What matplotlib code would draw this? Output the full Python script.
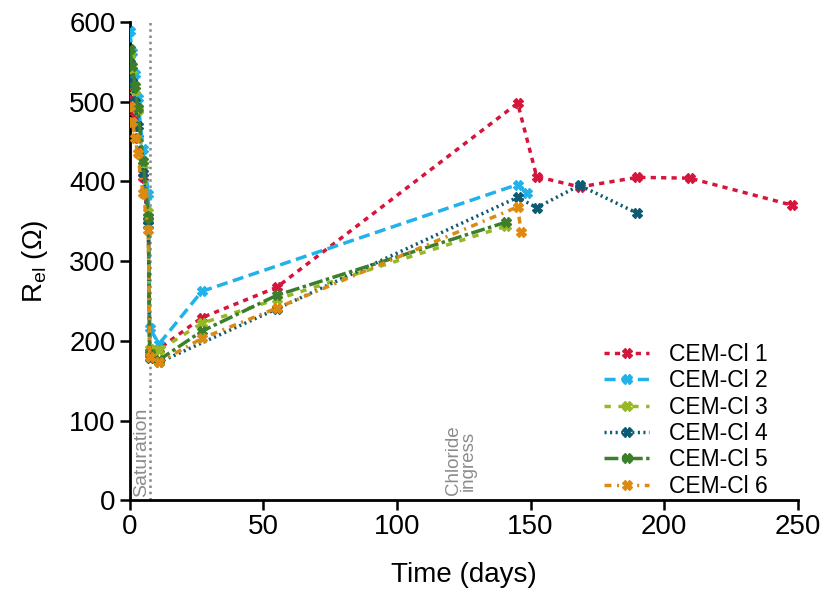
import matplotlib
matplotlib.use("Agg")
import matplotlib.pyplot as plt

plt.rcParams["font.family"] = ["Liberation Sans", "DejaVu Sans"]
plt.rcParams["mathtext.default"] = "regular"

# Data (days, ohm)
days_1 = [0, 1, 2, 3, 5, 7, 7.5, 11, 27, 55, 145.2, 152.3, 168.4, 190, 209.6, 248]
rel_1 = [520, 502, 482, 455, 405, 352, 186, 190, 229, 267, 498, 406, 393, 405, 404, 370]

days_2 = [0, 1, 2, 3, 5, 7, 7.5, 11, 27, 145.2, 148.6]
rel_2 = [588, 562, 535, 505, 440, 384, 216, 196, 262, 396, 385]

days_3 = [0, 1, 2, 3, 5, 7, 7.5, 11, 27, 55, 141]
rel_3 = [558, 540, 515, 490, 420, 362, 190, 188, 222, 252, 344]

days_4 = [0, 1, 2, 3, 5, 7, 7.5, 11, 55, 145.2, 152.3, 168.4, 190]
rel_4 = [548, 525, 500, 470, 410, 345, 178, 173, 240, 380, 367, 395, 360]

days_5 = [0, 1, 2, 3, 5, 7, 7.5, 11, 27, 55, 141]
rel_5 = [566, 545, 520, 492, 425, 355, 183, 176, 212, 257, 349]

days_6 = [0, 1, 2, 3, 5, 7, 7.5, 11, 27, 55, 145.2, 146.5]
rel_6 = [495, 475, 455, 435, 385, 339, 180, 173, 203, 241, 368, 336]

labels = ["CEM-Cl 1", "CEM-Cl 2", "CEM-Cl 3", "CEM-Cl 4", "CEM-Cl 5", "CEM-Cl 6"]
colors = ["#d4163c", "#22b2ea", "#97b826", "#0d5a72", "#3b7f2c", "#dc8a12"]
styles = [(0, (1.5, 1.5)), (0, (3.2, 1.6)), (0, (1.8, 2.2)), (0, (0.6, 1.0)),
          (0, (4, 1, 1, 1)), (0, (2, 1.6, 0.6, 1.6))]

series = [(days_1, rel_1), (days_2, rel_2), (days_3, rel_3),
          (days_4, rel_4), (days_5, rel_5), (days_6, rel_6)]

fig = plt.figure(figsize=(8.31, 5.92), dpi=100)
ax = fig.add_axes([0.156, 0.155, 0.804, 0.808])

ax.axvline(7.5, color="#888888", linestyle=(0, (1, 1.5)), linewidth=1.8, zorder=1)

for (d, r), lab, col, ls in zip(series, labels, colors, styles):
    ax.plot(d, r, color=col, linestyle=ls, linewidth=2.5, marker="X",
            markersize=7, label=lab, zorder=3)

ax.text(4.5, 4, "Saturation", rotation=90, color="#8c8c8c", fontsize=14,
        ha="center", va="bottom")
ax.text(124, 6, "Chloride\ningress", rotation=90, color="#8c8c8c", fontsize=13.5,
        ha="center", va="bottom", linespacing=0.85)

ax.set_xlim(0, 250)
ax.set_ylim(0, 600)
ax.set_xticks([0, 50, 100, 150, 200, 250])
ax.set_yticks([0, 100, 200, 300, 400, 500, 600])
ax.spines["top"].set_visible(False)
ax.spines["right"].set_visible(False)
ax.spines["left"].set_linewidth(2)
ax.spines["bottom"].set_linewidth(2)
ax.tick_params(direction="out", length=7, width=1.8, labelsize=20, pad=3)
ax.set_xlabel("Time (days)", fontsize=20, labelpad=16)
ax.set_ylabel(r"R$_{el}$ ($\Omega$)", fontsize=20, labelpad=14)

ax.legend(loc="lower right", frameon=False, fontsize=16.5, handlelength=2.0,
          handletextpad=0.85, labelspacing=0.15, borderpad=0, borderaxespad=0,
          bbox_to_anchor=(0.955, 0.005))

fig.savefig("out.png", dpi=100)
